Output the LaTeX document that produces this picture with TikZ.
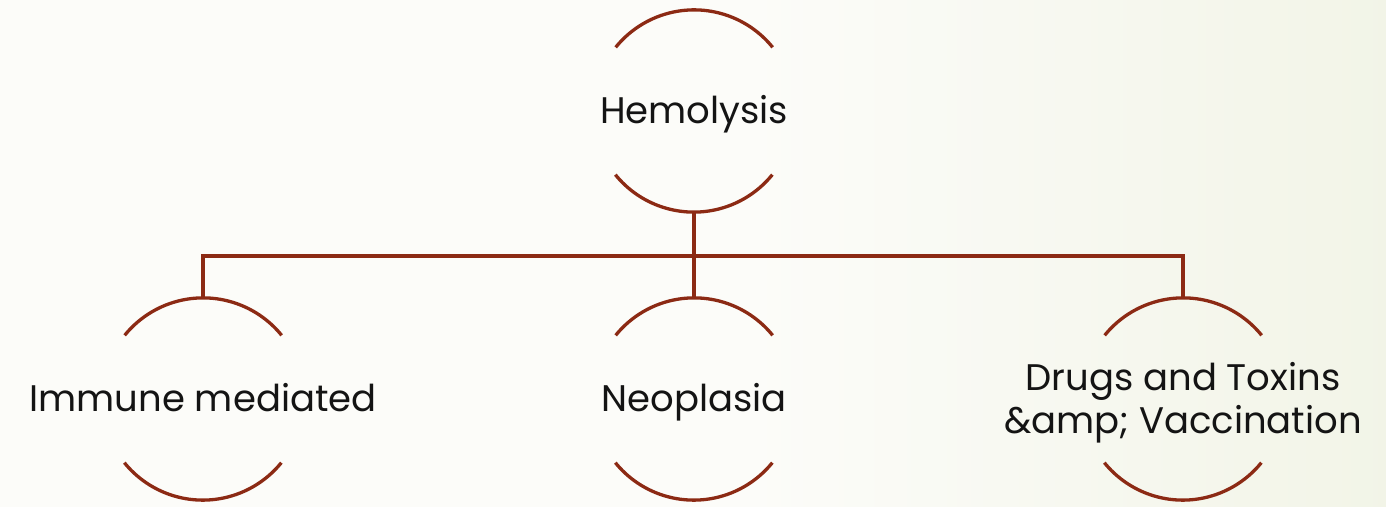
\documentclass[tikz,border=0pt]{standalone}
\usepackage{fontspec}
\setmainfont{Poppins}
\definecolor{brn}{RGB}{140,42,20}
\definecolor{bgL}{RGB}{242,244,232}
\definecolor{bgM}{RGB}{252,252,249}
\definecolor{bgR}{RGB}{231,236,212}
\definecolor{txt}{RGB}{20,20,20}
\pgfdeclarehorizontalshading{bgshade}{100bp}{color(0bp)=(bgL); color(22bp)=(bgM); color(52bp)=(bgM); color(100bp)=(bgR)}
\begin{document}
\begin{tikzpicture}[x=1pt,y=1pt,
  arcline/.style={draw=brn, line width=3.3pt},
  conn/.style={draw=brn, line width=3.3pt},
  hub/.style={circle, minimum size=202pt, inner sep=0pt, draw=none},
  lbl/.style={font=\fontsize{37}{43}\selectfont, text=txt, align=center, inner sep=0pt}]
\useasboundingbox (0,0) rectangle (1386,506);
\shade[shading=bgshade] (0,0) rectangle (1386,506);
% hubs
\node[hub] (hH) at (694,395) {};
\node[hub] (hI) at (203,107) {};
\node[hub] (hN) at (694,107) {};
\node[hub] (hD) at (1183,107) {};
% arcs
\foreach \h in {hH,hI,hN,hD}{
  \draw[arcline] (\h.39) arc[start angle=39, end angle=141, radius=101pt];
  \draw[arcline] (\h.219) arc[start angle=219, end angle=321, radius=101pt];
}
% labels
\node[lbl, anchor=base] (tH) at (694,382) {Hemolysis};
\node[lbl, anchor=base] (tI) at (203,94) {Immune mediated};
\node[lbl, anchor=base] (tN) at (694,94) {Neoplasia};
\node[lbl] (tD) at (1183,103) {Drugs and Toxins\\\&amp; Vaccination};
% connectors
\coordinate (bus) at (694,250);
\draw[conn] (hH.south) -- (bus);
\draw[conn] (hN.north) -- (bus);
\draw[conn] (hI.north) |- (bus) -| (hD.north);
\end{tikzpicture}
\end{document}
